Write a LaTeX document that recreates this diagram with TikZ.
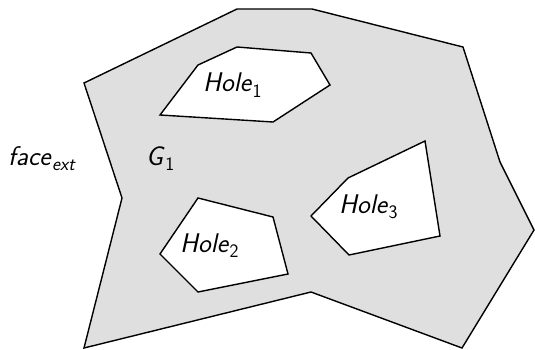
\documentclass[tikz,border=0pt]{standalone}
\usepackage{fontspec}
\definecolor{facegray}{RGB}{223,223,223}
\newcommand{\lbl}[2]{\textit{#1}\kern0.5pt\raisebox{-0.2em}{\fontsize{19pt}{19pt}\selectfont #2}}
\begin{document}
\begin{tikzpicture}[x=1pt,y=-1pt,
  edge/.style={draw=black,line width=1.4pt,line join=miter},
  lab/.style={font=\sffamily\fontsize{27pt}{27pt}\selectfont,inner sep=0pt,anchor=base west}]
\useasboundingbox (0,0) rectangle (535,350);
% outer face
\path[edge,fill=facegray] (84,83) -- (237,9) -- (312,9) -- (463,47) -- (500,162) -- (534,230) -- (462,348) -- (311,292) -- (84,348) -- (122,198) -- cycle;
% holes
\path[edge,fill=white] (160,115) -- (198,65) -- (237,47) -- (311,53) -- (330,85) -- (273,122) -- cycle;
\path[edge,fill=white] (160,254) -- (198,198) -- (273,217) -- (288,274) -- (198,292) -- cycle;
\path[edge,fill=white] (311,216) -- (348,178) -- (425,141) -- (440,236) -- (349,255) -- cycle;
% labels
\node[lab] (h1) at (203,92) {\lbl{Hole}{1}};
\node[lab] (h2) at (180,252) {\lbl{Hole}{2}};
\node[lab] (h3) at (339,213) {\lbl{Hole}{3}};
\node[lab] (fe) at (8,165) {\lbl{face}{\textit{ext}}};
\node[lab] (g1) at (146,165) {\lbl{G}{1}};
\end{tikzpicture}
\end{document}
